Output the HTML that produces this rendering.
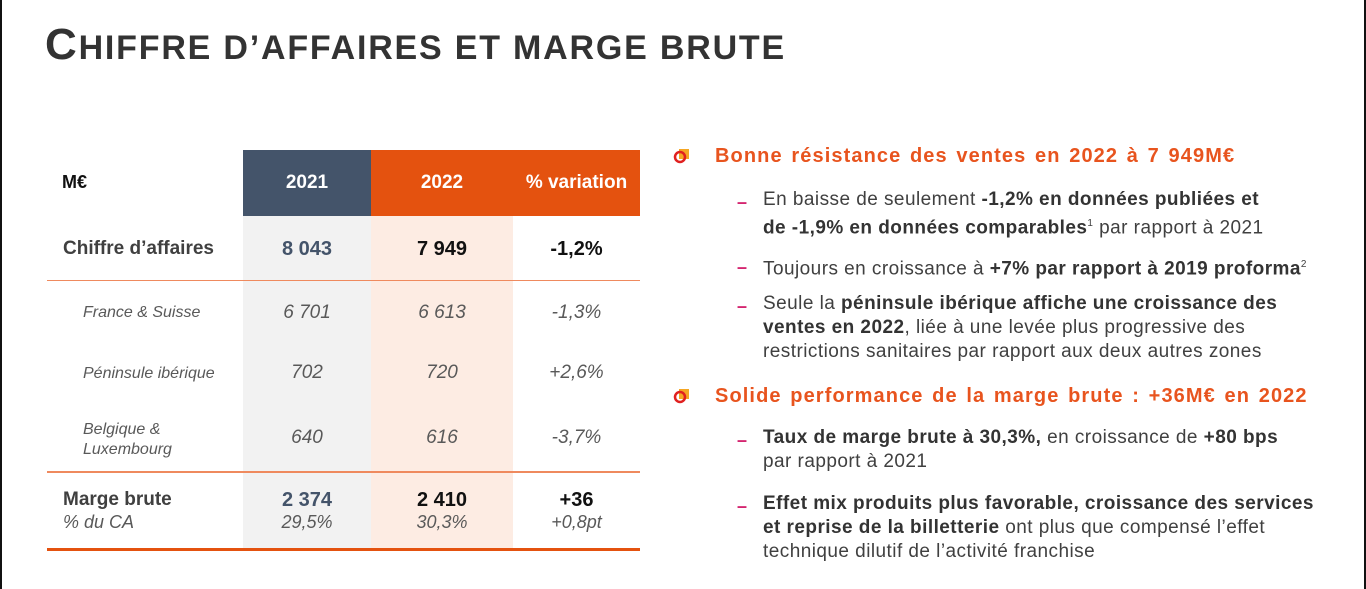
<!DOCTYPE html>
<html><head><meta charset="utf-8">
<style>
body{margin:0;width:1366px;height:589px;background:#fff;position:relative;overflow:hidden;font-family:"Liberation Sans",sans-serif;}
.a{position:absolute;white-space:nowrap;}
.bd{position:absolute;top:0;bottom:0;width:2px;background:#111;}
.t{color:#404040}
.c{text-align:center}
.it{font-style:italic;color:#595959;font-size:17px}
.bul{font-size:19px;color:#404040;line-height:24px;letter-spacing:0.45px}
.bul b{color:#333}
.dash{position:absolute;color:#d4246f;font-size:18px;font-weight:bold}
.hd{font-size:20px;font-weight:bold;color:#e8541e;letter-spacing:1.1px;word-spacing:2px}
</style></head><body>
<div class="bd" style="left:0"></div>
<div class="bd" style="right:0"></div>
<div class="a" style="left:45px;top:20px;font-size:34px;font-weight:bold;color:#333;letter-spacing:1.8px"><span style="font-size:44px">C</span>HIFFRE D’AFFAIRES ET MARGE BRUTE</div>

<div>
<div class="a" style="left:243px;top:216px;width:128px;height:333px;background:#f2f2f2"></div>
<div class="a" style="left:371px;top:216px;width:142px;height:333px;background:#fdece3"></div>
<div class="a c" style="left:243px;top:150px;width:128px;height:66px;line-height:66px;background:#44546a;color:#fff;font-size:19px;font-weight:bold">2021</div>
<div class="a c" style="left:371px;top:150px;width:142px;height:66px;line-height:66px;background:#e4520f;color:#fff;font-size:19px;font-weight:bold">2022</div>
<div class="a c" style="left:513px;top:150px;width:127px;height:66px;line-height:66px;background:#e4520f;color:#fff;font-size:19px;font-weight:bold">% variation</div>
<div class="a" style="left:62px;top:172px;font-size:18px;font-weight:bold;color:#111">M€</div>

<div class="a" style="left:47px;top:280px;width:593px;height:1px;background:#ef8a5e"></div>
<div class="a" style="left:47px;top:471px;width:593px;height:2px;background:#ef8a5e"></div>
<div class="a" style="left:47px;top:548px;width:593px;height:3px;background:#e4520f"></div>

<div class="a t" style="left:63px;top:238px;font-size:19px;font-weight:bold">Chiffre d’affaires</div>
<div class="a c" style="left:243px;width:128px;top:238px;font-size:20px;font-weight:bold;color:#44546a">8 043</div>
<div class="a c" style="left:371px;width:142px;top:238px;font-size:20px;font-weight:bold;color:#111">7 949</div>
<div class="a c" style="left:513px;width:127px;top:238px;font-size:20px;font-weight:bold;color:#111">-1,2%</div>

<div class="a it" style="left:83px;top:304px;font-size:16px">France &amp; Suisse</div>
<div class="a c it" style="left:243px;width:128px;top:302px;font-size:19px">6 701</div>
<div class="a c it" style="left:371px;width:142px;top:302px;font-size:19px">6 613</div>
<div class="a c it" style="left:513px;width:127px;top:302px;font-size:19px">-1,3%</div>

<div class="a it" style="left:83px;top:365px;font-size:16px">Péninsule ibérique</div>
<div class="a c it" style="left:243px;width:128px;top:362px;font-size:19px">702</div>
<div class="a c it" style="left:371px;width:142px;top:362px;font-size:19px">720</div>
<div class="a c it" style="left:513px;width:127px;top:362px;font-size:19px">+2,6%</div>

<div class="a it" style="left:83px;top:420px;font-size:16px;line-height:20px">Belgique &amp;<br>Luxembourg</div>
<div class="a c it" style="left:243px;width:128px;top:427px;font-size:19px">640</div>
<div class="a c it" style="left:371px;width:142px;top:427px;font-size:19px">616</div>
<div class="a c it" style="left:513px;width:127px;top:427px;font-size:19px">-3,7%</div>

<div class="a t" style="left:63px;top:489px;font-size:19px;font-weight:bold;line-height:22px">Marge brute<br><span style="font-weight:normal;font-style:italic;color:#595959;font-size:18px">% du CA</span></div>
<div class="a c" style="left:243px;width:128px;top:489px;font-size:20px;font-weight:bold;color:#44546a;line-height:22px">2 374<br><span class="it" style="font-weight:normal;font-size:18px">29,5%</span></div>
<div class="a c" style="left:371px;width:142px;top:489px;font-size:20px;font-weight:bold;color:#111;line-height:22px">2 410<br><span class="it" style="font-weight:normal;font-size:18px">30,3%</span></div>
<div class="a c" style="left:513px;width:127px;top:489px;font-size:20px;font-weight:bold;color:#111;line-height:22px">+36<br><span class="it" style="font-weight:normal;font-size:18px">+0,8pt</span></div>
</div>

<svg class="a" style="left:673px;top:147px" width="18" height="18"><rect x="6" y="2" width="10" height="10" fill="#f5a623"/><circle cx="7" cy="10" r="5" fill="none" stroke="#e0201f" stroke-width="2.5"/></svg>
<div class="a hd" style="left:715px;top:145px">Bonne résistance des ventes en 2022 à 7 949M€</div>
<div class="dash" style="left:737px;top:192px">–</div>
<div class="a bul" style="left:763px;top:188px">En baisse de seulement <b>-1,2% en données publiées et<br>de -1,9% en données comparables</b><sup style="font-size:10px">1</sup> par rapport à 2021</div>
<div class="dash" style="left:737px;top:257px">–</div>
<div class="a bul" style="left:763px;top:253px">Toujours en croissance à <b>+7% par rapport à 2019 proforma</b><sup style="font-size:10px">2</sup></div>
<div class="dash" style="left:737px;top:296px">–</div>
<div class="a bul" style="left:763px;top:292px">Seule la <b>péninsule ibérique affiche une croissance des<br>ventes en 2022</b>, liée à une levée plus progressive des<br>restrictions sanitaires par rapport aux deux autres zones</div>

<svg class="a" style="left:673px;top:387px" width="18" height="18"><rect x="6" y="2" width="10" height="10" fill="#f5a623"/><circle cx="7" cy="10" r="5" fill="none" stroke="#e0201f" stroke-width="2.5"/></svg>
<div class="a hd" style="left:715px;top:385px">Solide performance de la marge brute : +36M€ en 2022</div>
<div class="dash" style="left:737px;top:430px">–</div>
<div class="a bul" style="left:763px;top:426px"><b>Taux de marge brute à 30,3%,</b> en croissance de <b>+80 bps</b><br>par rapport à 2021</div>
<div class="dash" style="left:737px;top:496px">–</div>
<div class="a bul" style="left:763px;top:492px"><b>Effet mix produits plus favorable, croissance des services<br>et reprise de la billetterie</b> ont plus que compensé l’effet<br>technique dilutif de l’activité franchise</div>
</body></html>
